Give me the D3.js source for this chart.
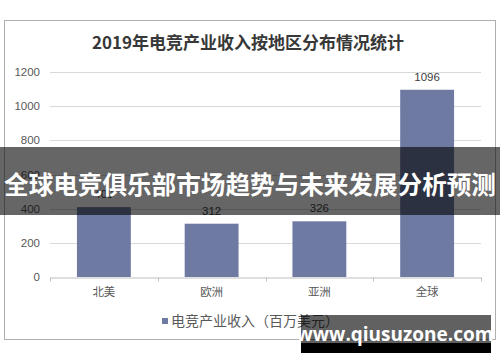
<!DOCTYPE html>
<html>
<head>
<meta charset="utf-8">
<script src="https://cdn.jsdelivr.net/npm/d3@7"></script>
<style>
body { margin: 0; background: #fff; }
svg { display: block; }
</style>
</head>
<body>
<div id="chart"></div>
<script>
// data
var regions = ["北美", "欧洲", "亚洲", "全球"];
var revenue = [409, 312, 326, 1096];
var yTicks = [0, 200, 400, 600, 800, 1000, 1200];

var W = 500, H = 362;
var margin = { top: 72, left: 50, right: 19, bottom: 85 };

var svg = d3.select("#chart").append("svg")
	.attr("width", W)
	.attr("height", H);

// chart frame
svg.append("rect")
	.attr("x", 4.5).attr("y", 20.5)
	.attr("width", 491).attr("height", 319)
	.style("fill", "#fff")
	.style("stroke", "#b0b0b0");

svg.append("text")
	.attr("x", 248).attr("y", 49)
	.attr("text-anchor", "middle")
	.style("font-family", "'Noto Sans CJK SC', sans-serif")
	.style("font-weight", "bold")
	.style("font-size", "17px")
	.style("fill", "#383838")
	.text("2019年电竞产业收入按地区分布情况统计");

var x = d3.scaleBand().domain(regions)
	.range([margin.left, W - margin.right])
	.paddingInner(0.5).paddingOuter(0.25);
var y = d3.scaleLinear().domain([0, 1200])
	.range([277, 72]);

// grid
svg.append("g")
	.selectAll("line")
	.data(yTicks.filter(d => d > 0))
	.enter().append("line")
	.attr("x1", margin.left).attr("x2", W - margin.right)
	.attr("y1", d => Math.round(y(d)) + 0.5)
	.attr("y2", d => Math.round(y(d)) + 0.5)
	.style("stroke", "#d9d9d9");

// y labels
svg.append("g")
	.selectAll("text")
	.data(yTicks)
	.enter().append("text")
	.attr("x", 40)
	.attr("y", d => y(d) + 4)
	.attr("text-anchor", "end")
	.style("font-family", "'Liberation Sans', Arial, sans-serif")
	.style("font-size", "11.5px")
	.style("fill", "#595959")
	.text(d => d);

// bars
svg.selectAll(".bar")
	.data(revenue)
	.enter().append("rect")
	.attr("class", "bar")
	.attr("x", (d, i) => x(regions[i]))
	.attr("width", x.bandwidth())
	.attr("y", d => y(d))
	.attr("height", d => y(0) - y(d))
	.style("fill", "#6f7aa3");

svg.selectAll(".val")
	.data(revenue)
	.enter().append("text")
	.attr("class", "val")
	.attr("x", (d, i) => x(regions[i]) + x.bandwidth() / 2)
	.attr("y", d => y(d) - 9)
	.attr("text-anchor", "middle")
	.style("font-family", "'Liberation Sans', Arial, sans-serif")
	.style("font-size", "11.5px")
	.style("fill", "#404040")
	.text(d => d);

// x axis
var xAxis = d3.axisBottom(x).tickSize(0).tickPadding(10);
var gx = svg.append("g")
	.attr("transform", "translate(0," + (Math.round(y(0)) + 0.5) + ")")
	.call(xAxis);
gx.select(".domain").style("stroke", "#bfbfbf");
gx.selectAll("text")
	.style("font-family", "'Noto Sans CJK SC', sans-serif")
	.style("font-size", "11.5px")
	.style("fill", "#595959");
var edges = d3.range(regions.length + 1).map(i => margin.left + i * (W - margin.left - margin.right) / regions.length);
gx.selectAll(".edge")
	.data(edges)
	.enter().append("line")
	.attr("x1", d => Math.round(d) + 0.5).attr("x2", d => Math.round(d) + 0.5)
	.attr("y1", 0).attr("y2", 4)
	.style("stroke", "#bfbfbf");

// legend
svg.append("rect")
	.attr("x", 162).attr("y", 318)
	.attr("width", 6).attr("height", 6)
	.style("fill", "#6f7aa3");
svg.append("text")
	.attr("x", 171).attr("y", 326)
	.style("font-family", "'Noto Sans CJK SC', sans-serif")
	.style("font-size", "14px")
	.style("fill", "#595959")
	.text("电竞产业收入（百万美元）");

// overlay banner
svg.append("rect")
	.attr("x", 0).attr("y", 147)
	.attr("width", W).attr("height", 68)
	.style("fill", "rgba(0,0,0,0.6)");
svg.append("text")
	.attr("x", 250).attr("y", 194)
	.attr("text-anchor", "middle")
	.style("font-family", "'Noto Sans CJK SC', sans-serif")
	.style("font-weight", "bold")
	.style("font-size", "24.6px")
	.style("fill", "#fff")
	.text("全球电竞俱乐部市场趋势与未来发展分析预测");

// watermark
svg.append("rect")
	.attr("x", 301).attr("y", 315)
	.attr("width", 190).attr("height", 28)
	.style("fill", "rgba(0,0,0,0.62)");
svg.append("rect")
	.attr("x", 301).attr("y", 343)
	.attr("width", 190).attr("height", 10)
	.style("fill", "#000");
svg.append("text")
	.attr("x", 395).attr("y", 341)
	.attr("text-anchor", "middle")
	.style("font-family", "'Open Sans', 'DejaVu Sans', sans-serif")
	.style("font-weight", "bold")
	.style("font-size", "19px")
	.style("fill", "#fff")
	.text("www.qiusuzone.com");
</script>
</body>
</html>
